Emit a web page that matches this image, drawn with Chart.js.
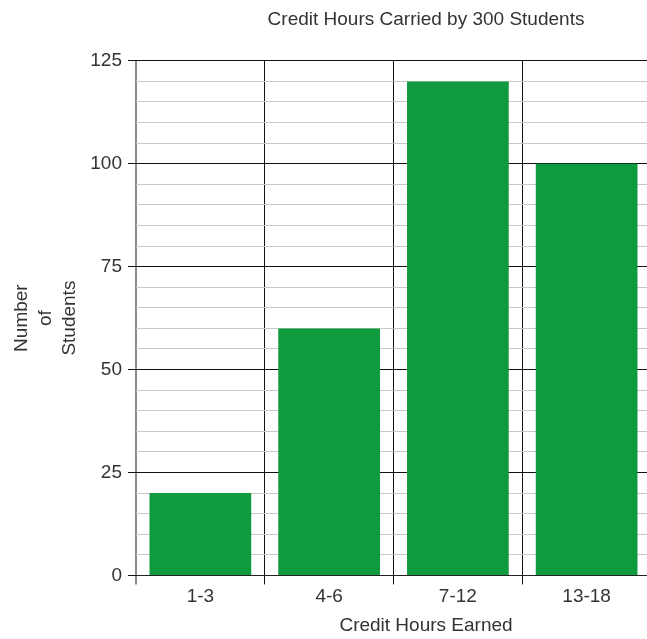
<!DOCTYPE html>
<html>
<head>
<meta charset="utf-8">
<script src="https://cdn.jsdelivr.net/npm/chart.js@4"></script>
<style>
  html, body { margin: 0; padding: 0; background: #fff; overflow: hidden; width: 647px; height: 639px; }
  #wrap { width: 852px; height: 639px; }
</style>
</head>
<body>
<div id="wrap"><canvas id="c" width="852" height="639"></canvas></div>
<script>
const categories = ['1-3', '4-6', '7-12', '13-18'];
const students = [20, 60, 120, 100];
const yTicks = [0, 25, 50, 75, 100, 125];
const chartTitle = 'Credit Hours Carried by 300 Students';
const xTitle = 'Credit Hours Earned';
const yTitle = ['Number', 'of', 'Students'];

const FONT = '"Liberation Sans", Arial, sans-serif';
const TXT = '#333';
const FS = 19;

new Chart(document.getElementById('c'), {
  type: 'bar',
  data: {
    labels: categories,
    datasets: [{
      data: students,
      backgroundColor: '#0f9a3d',
      borderWidth: 0,
      categoryPercentage: 1,
      barPercentage: 0.79
    }]
  },
  options: {
    responsive: false,
    animation: false,
    devicePixelRatio: 1,
    layout: { padding: 0 },
    plugins: {
      legend: { display: false },
      tooltip: { enabled: false },
      title: {
        display: true,
        text: chartTitle,
        color: TXT,
        font: { family: FONT, size: FS, weight: 'normal', lineHeight: 1.2 },
        padding: { top: 8, bottom: 30 }
      },
      subtitle: {
        display: true,
        position: 'bottom',
        text: xTitle,
        color: TXT,
        font: { family: FONT, size: FS, weight: 'normal', lineHeight: 1.2 },
        padding: { top: 5, bottom: 2 }
      }
    },
    scales: {
      x: {
        offset: true,
        grid: {
          offset: true,
          display: true,
          drawOnChartArea: true,
          color: (ctx) => ctx.index === 0 ? '#8a8a8a' : '#111',
          lineWidth: (ctx) => ctx.index === 0 ? 2 : 1,
          tickLength: 9
        },
        border: { display: true, color: '#222', width: 1 },
        ticks: {
          color: TXT,
          font: { family: FONT, size: FS, lineHeight: 1.2 },
          padding: 1,
          maxRotation: 0,
          autoSkip: false
        }
      },
      y: {
        min: 0,
        max: 125,
        afterFit: (scale) => { scale.width = 136; },
        ticks: {
          stepSize: 5,
          autoSkip: false,
          color: TXT,
          font: { family: FONT, size: FS, lineHeight: 1.2 },
          padding: 6,
          callback: (v) => yTicks.includes(v) ? String(v) : ''
        },
        grid: {
          color: (ctx) => (ctx.tick && ctx.tick.value % 25 === 0) ? '#111' : '#c8c8c8',
          lineWidth: 1,
          tickLength: 8,
          tickColor: (ctx) => (ctx.tick && ctx.tick.value % 25 === 0) ? '#111' : 'rgba(0,0,0,0)'
        },
        border: { display: false },
        title: {
          display: true,
          text: yTitle,
          color: TXT,
          font: { family: FONT, size: FS, lineHeight: 1.25 },
          padding: { top: 10, bottom: 4 }
        }
      },
      yRight: {
        position: 'right',
        display: true,
        afterFit: (scale) => { scale.width = 201; },
        ticks: { display: false },
        grid: { display: false },
        border: { display: false }
      }
    }
  }
});
</script>
</body>
</html>
